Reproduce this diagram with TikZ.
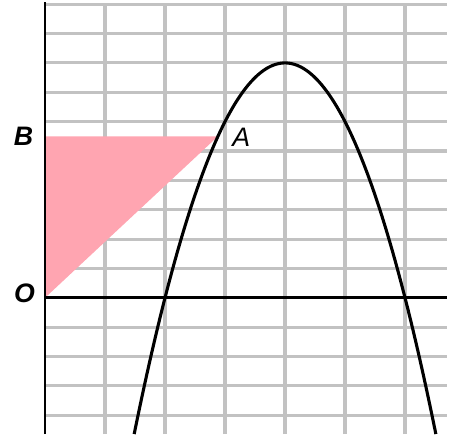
\documentclass[tikz,border=0pt]{standalone}
\usepackage{fontspec}
\setmainfont{Liberation Sans}
\begin{document}
\begin{tikzpicture}[
    x=1.5cm,
    y=0.734cm,
    gridline/.style={draw=black!24, line width=2.2pt},
    axis/.style={black, line width=1.9pt},
    curve/.style={black, line width=2.2pt},
    region/.style={fill=pinkfill, draw=none},
    label/.style={font=\fontsize{19}{22}\selectfont\itshape}
]

% =========================================================
% PARAMETRI
% =========================================================

\definecolor{pinkfill}{RGB}{255,165,177}

\def\xmax{6.7}
\def\ymin{-4.64}
\def\ymax{10}
\def\yB{5.5}
\pgfmathsetmacro{\xA}{4-sqrt((8-\yB)/2)}

\useasboundingbox (-0.75,-4.644) rectangle (6.783,10.143);

% Punti
\coordinate (O) at (0,0);
\coordinate (B) at (0,\yB);
\coordinate (A) at (\xA,\yB);

% =========================================================
% GRIGLIA
% =========================================================

\foreach \i in {1,...,6}
  \draw[gridline] (\i,\ymin) -- (\i,\ymax+0.03);
\foreach \j in {-4,...,10}
  \draw[gridline] (0,\j) -- (\xmax,\j);

% =========================================================
% TRIANGOLO OAB
% =========================================================

\fill[region] (O) -- (A) -- (B) -- cycle;

% =========================================================
% ASSI
% =========================================================

\draw[axis] (0,\ymin) -- (0,10.06);
\draw[axis] (O) -- (\xmax,0);

% =========================================================
% PARABOLA
% =========================================================

\draw[curve, domain=1.486:6.514, samples=120]
  plot (\x,{-2*(\x-2)*(\x-6)});

% Etichette
\node[label, font=\fontsize{19}{22}\selectfont\bfseries\itshape] (labB) at (-0.36,\yB) {B};
\node[label, font=\fontsize{19}{22}\selectfont\bfseries\itshape] (labO) at (-0.34,0.15) {O};
\node[label] (labA) at (3.27,\yB-0.05) {A};

\end{tikzpicture}
\end{document}
